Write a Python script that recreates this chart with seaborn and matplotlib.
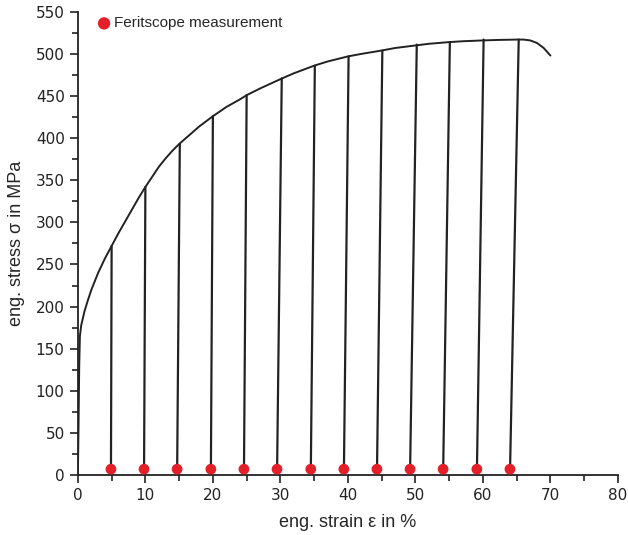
import numpy as np
import pandas as pd
import matplotlib
matplotlib.use("Agg")
import matplotlib.pyplot as plt
from matplotlib.ticker import MultipleLocator
import seaborn as sns

# envelope of the stress-strain curve
strain = [0, 0.1, 0.2, 0.3, 0.5, 1.0, 1.5, 2, 3, 4, 5, 6, 7, 8, 9, 10, 11, 12, 13, 14,
          15, 16, 17, 18, 19, 20, 22, 24, 25, 27, 30, 32, 35, 37, 40, 42, 45, 47, 50,
          52, 55, 57, 60, 62, 65, 66, 67, 68, 69, 70]
stress = [0, 60, 130, 165, 178, 195, 208, 220, 240, 257, 272, 287, 301, 315, 329, 342,
          354, 366, 376, 385, 393, 400, 407, 414, 420, 426, 437, 446, 451, 459, 470, 477,
          486, 491, 497, 500, 504, 507, 510, 512, 514, 515, 516, 516.5, 517, 517, 516,
          513, 507, 498]

# unloading lines: top point on the curve and bottom at the axis
unload_top_x = [5.0, 10.0, 15.1, 20.0, 25.0, 30.2, 35.1, 40.1, 45.1, 50.2, 55.1, 60.1, 65.3]
unload_top_y = [272, 342, 393, 426, 451, 471, 486, 497, 504, 511, 514, 517, 517]
unload_bot_x = [4.9, 9.8, 14.7, 19.7, 24.6, 29.5, 34.5, 39.4, 44.3, 49.2, 54.1, 59.1, 64.0]

# Feritscope measurement points
ferit_x = unload_bot_x
ferit_y = [7] * len(ferit_x)

sns.set_style("ticks")
plt.rcParams['font.family'] = ['DejaVu Sans']

fig = plt.figure(figsize=(6.28, 5.35), dpi=100)
ax = fig.add_axes([0.124, 0.112, 0.86, 0.866])

line_col = "#222222"
curve = pd.DataFrame({"strain": strain, "stress": stress})
sns.lineplot(data=curve, x="strain", y="stress", sort=False, estimator=None,
             color=line_col, lw=1.4, ax=ax)

segs = []
for i in range(len(unload_top_x)):
    segs.append({"seg": i, "x": unload_top_x[i], "y": unload_top_y[i]})
    segs.append({"seg": i, "x": unload_bot_x[i], "y": 0})
segs = pd.DataFrame(segs)
sns.lineplot(data=segs, x="x", y="y", units="seg", estimator=None, sort=False,
             color=line_col, lw=1.6, ax=ax)

pts = pd.DataFrame({"x": ferit_x, "y": ferit_y})
sns.scatterplot(data=pts, x="x", y="y", color="#e3202a", s=60, edgecolor="none",
                zorder=5, label="Feritscope measurement", ax=ax, clip_on=False)

ax.set_xlim(0, 80)
ax.set_ylim(0, 550)
ax.xaxis.set_major_locator(MultipleLocator(10))
ax.xaxis.set_minor_locator(MultipleLocator(5))
ax.yaxis.set_major_locator(MultipleLocator(50))
ax.yaxis.set_minor_locator(MultipleLocator(25))
ax.tick_params(which="major", direction="out", length=6, width=1.2, labelsize=11,
               colors="#222222")
ax.tick_params(which="minor", direction="out", length=4, width=1.2, colors="#222222")
for s in ["left", "bottom"]:
    ax.spines[s].set_linewidth(1.3)
    ax.spines[s].set_color("#222222")
sns.despine(ax=ax)

label_font = ["Liberation Sans", "DejaVu Sans"]
ax.set_xlabel("eng. strain ε in %", fontsize=13, labelpad=8, family=label_font)
ax.set_ylabel("eng. stress σ in MPa", fontsize=13, labelpad=8, family=label_font)

ax.legend(loc="upper left", bbox_to_anchor=(0.04, 0.99), frameon=False,
          prop={"family": label_font, "size": 11}, markerscale=1.15,
          handlelength=0.6, handletextpad=0.35, borderaxespad=0.0, borderpad=0.0)

fig.savefig("out.png", dpi=100)
